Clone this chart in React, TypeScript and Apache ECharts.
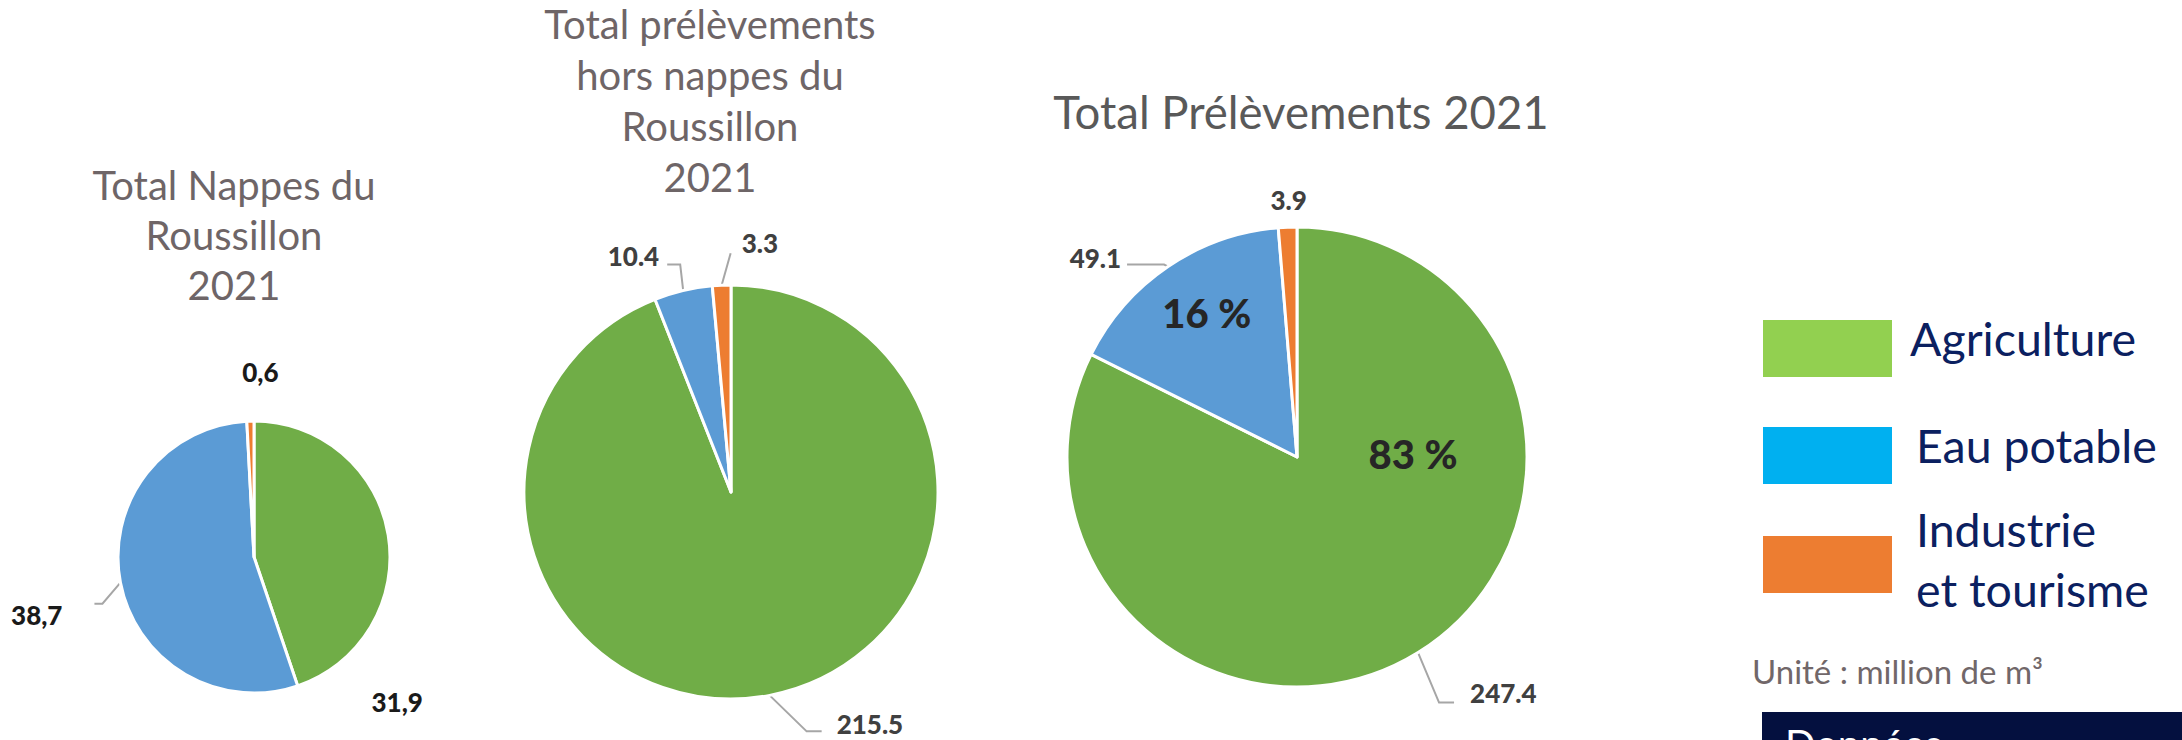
import React, { useEffect, useRef } from 'react';
import * as echarts from 'echarts';

// ---------- data ----------
const categories = ['Agriculture', 'Eau potable', 'Industrie et tourisme'];
const legendLabels = ['Agriculture', 'Eau potable', 'Industrie\net tourisme'];
const nappesRoussillon = [31.9, 38.7, 0.6];
const horsNappes = [215.5, 10.4, 3.3];
const totalPrelevements = [247.4, 49.1, 3.9];
const totalShares = ['83 %', '16 %', ''];
const titleNappes = 'Total Nappes du\nRoussillon\n2021';
const titleHorsNappes = 'Total prélèvements\nhors nappes du\nRoussillon\n2021';
const titleTotal = 'Total Prélèvements 2021';
const unitLabel = 'Unité : million de m³';
const sourceLabel = 'Données';

// ---------- styles ----------
const SLICE_COLORS = ['#70AD47', '#5B9BD5', '#ED7D31'];
const LEGEND_COLORS = ['#92D050', '#00B0F0', '#ED7D31'];
const FONT = 'Lato, "Open Sans", sans-serif';

const PIES = [
  { center: [254, 557], radius: 136 },
  { center: [731, 492], radius: 207 },
  { center: [1297, 457], radius: 230 },
];

type Place = { dx: number; dy: number; align: 'left' | 'right' | 'center'; line?: number[][] };
// label placement relative to the slice's edge anchor computed by ECharts
const LABEL_PLACEMENT: Place[][] = [
  [
    { dx: 9, dy: 167, align: 'center' },
    { dx: -58, dy: 32, align: 'right', line: [[-18, 21], [-26, 21]] },
    { dx: 10, dy: -49, align: 'center' },
  ],
  [
    { dx: 67, dy: 29, align: 'left', line: [[37, 36], [52, 36]] },
    { dx: -24, dy: -35, align: 'right', line: [[-3, -26], [-16, -26]] },
    { dx: 20, dy: -42, align: 'left', line: [[9, -32], [9, -32]] },
  ],
  [
    { dx: 52, dy: 40, align: 'left', line: [[21, 50], [36, 50]] },
    { dx: -47, dy: -9, align: 'right', line: [[-4, -2], [-41, -2]] },
    { dx: 1, dy: -27, align: 'center' },
  ],
];
const SHARE_OFFSETS = [[54, -103], [-24, -46], [0, 0]];

function makeLayout(seriesIdx: number) {
  return (p: any) => {
    const spec = LABEL_PLACEMENT[seriesIdx][p.dataIndex];
    const a = p.labelLinePoints ? p.labelLinePoints[0] : [p.labelRect.x, p.labelRect.y];
    const pts = spec.line
      ? [a, [a[0] + spec.line[0][0], a[1] + spec.line[0][1]], [a[0] + spec.line[1][0], a[1] + spec.line[1][1]]]
      : [a, a, a];
    return {
      x: a[0] + spec.dx,
      y: a[1] + spec.dy,
      align: spec.align,
      verticalAlign: 'middle',
      labelLinePoints: pts,
    };
  };
}

function pieSeries(idx: number, values: number[], decimalComma: boolean, labelColor: string) {
  return {
    type: 'pie',
    name: 'pie' + idx,
    center: PIES[idx].center,
    radius: PIES[idx].radius,
    startAngle: 90,
    clockwise: true,
    avoidLabelOverlap: false,
    silent: true,
    itemStyle: { borderColor: '#ffffff', borderWidth: 3 },
    label: {
      show: true,
      position: 'outside',
      fontFamily: FONT,
      fontWeight: 900,
      fontSize: 26,
      color: labelColor,
      formatter: (p: any) => {
        const s = Number(p.value).toFixed(1);
        return decimalComma ? s.replace('.', ',') : s;
      },
    },
    labelLine: { show: true, length: 10, length2: 10, lineStyle: { color: '#A6A6A6', width: 2 } },
    labelLayout: makeLayout(idx),
    data: categories.map((c, i) => ({ name: c, value: values[i], itemStyle: { color: SLICE_COLORS[i] } })),
  };
}

// legend swatch: a 131x59 rectangle, with an empty lead-in above it so the text sits higher
const swatch = (lead: number) => `path://M0,${-lead} M0,0 L131,0 L131,59 L0,59 Z`;

export default function App() {
  const ref = useRef<HTMLDivElement>(null);
  useEffect(() => {
    if (!ref.current) return;
    const chart = echarts.init(ref.current, null, { renderer: 'svg' });
    const legendBase = {
      orient: 'vertical',
      left: 1761,
      itemWidth: 131,
      padding: 0,
      selectedMode: false,
      formatter: (name: string) => legendLabels[categories.indexOf(name)],
    };
    const legendText = (padLeft: number, lineHeight: number) => ({
      fontFamily: FONT,
      fontSize: 46.5,
      color: '#0B2060',
      padding: [0, 0, 0, padLeft],
      lineHeight,
    });
    const option: any = {
      animation: false,
      backgroundColor: '#ffffff',
      title: [
        {
          text: titleNappes,
          left: 234,
          top: 160,
          textAlign: 'center',
          padding: 0,
          textStyle: { fontFamily: FONT, fontWeight: 'normal', fontSize: 40, lineHeight: 50, color: '#6E6567' },
        },
        {
          text: titleHorsNappes,
          left: 710,
          top: -2,
          textAlign: 'center',
          padding: 0,
          textStyle: { fontFamily: FONT, fontWeight: 'normal', fontSize: 40, lineHeight: 51, color: '#6E6567' },
        },
        {
          text: titleTotal,
          left: 1301,
          top: 86,
          textAlign: 'center',
          padding: 0,
          textStyle: { fontFamily: FONT, fontWeight: 'normal', fontSize: 45.5, lineHeight: 51, color: '#595959' },
        },
      ],
      legend: [
        {
          ...legendBase,
          top: 296,
          itemHeight: 81,
          icon: swatch(22),
          data: [{ name: categories[0], itemStyle: { color: LEGEND_COLORS[0] } }],
          textStyle: legendText(12, 44),
        },
        {
          ...legendBase,
          top: 403,
          itemHeight: 81,
          icon: swatch(22),
          data: [{ name: categories[1], itemStyle: { color: LEGEND_COLORS[1] } }],
          textStyle: legendText(18, 44),
        },
        {
          ...legendBase,
          top: 499,
          itemHeight: 70,
          icon: swatch(11),
          data: [{ name: categories[2], itemStyle: { color: LEGEND_COLORS[2] } }],
          textStyle: legendText(18, 60),
        },
      ],
      series: [
        pieSeries(0, nappesRoussillon, true, '#1A1A1A'),
        pieSeries(1, horsNappes, false, '#404040'),
        pieSeries(2, totalPrelevements, false, '#404040'),
        {
          type: 'pie',
          name: 'shares',
          center: PIES[2].center,
          radius: PIES[2].radius,
          startAngle: 90,
          clockwise: true,
          silent: true,
          itemStyle: { color: 'rgba(0,0,0,0)', borderWidth: 0 },
          label: {
            show: true,
            position: 'inside',
            fontFamily: FONT,
            fontWeight: 900,
            fontSize: 40,
            color: '#262626',
            formatter: (p: any) => totalShares[p.dataIndex],
          },
          labelLine: { show: false },
          labelLayout: (p: any) => {
            const o = SHARE_OFFSETS[p.dataIndex];
            return {
              x: p.labelRect.x + p.labelRect.width / 2 + o[0],
              y: p.labelRect.y + p.labelRect.height / 2 + o[1],
              align: 'center',
              verticalAlign: 'middle',
            };
          },
          data: categories.map((c, i) => ({ name: c, value: totalPrelevements[i] })),
        },
      ],
      graphic: [
        {
          type: 'text',
          left: 1752,
          top: 654,
          style: { text: unitLabel, fontFamily: FONT, fontSize: 33, fill: '#716769' },
        },
        {
          type: 'rect',
          shape: { x: 1762, y: 712, width: 430, height: 40 },
          style: { fill: '#04103F' },
        },
        {
          type: 'text',
          x: 1785,
          y: 724,
          style: { text: sourceLabel, fontFamily: FONT, fontSize: 40, fill: '#ffffff', verticalAlign: 'top' },
        },
      ],
    };
    chart.setOption(option);
    return () => chart.dispose();
  }, []);
  return (
    <div
      ref={ref}
      style={{ position: 'absolute', left: 0, top: 0, width: 2182, height: 740, overflow: 'hidden' }}
    />
  );
}
